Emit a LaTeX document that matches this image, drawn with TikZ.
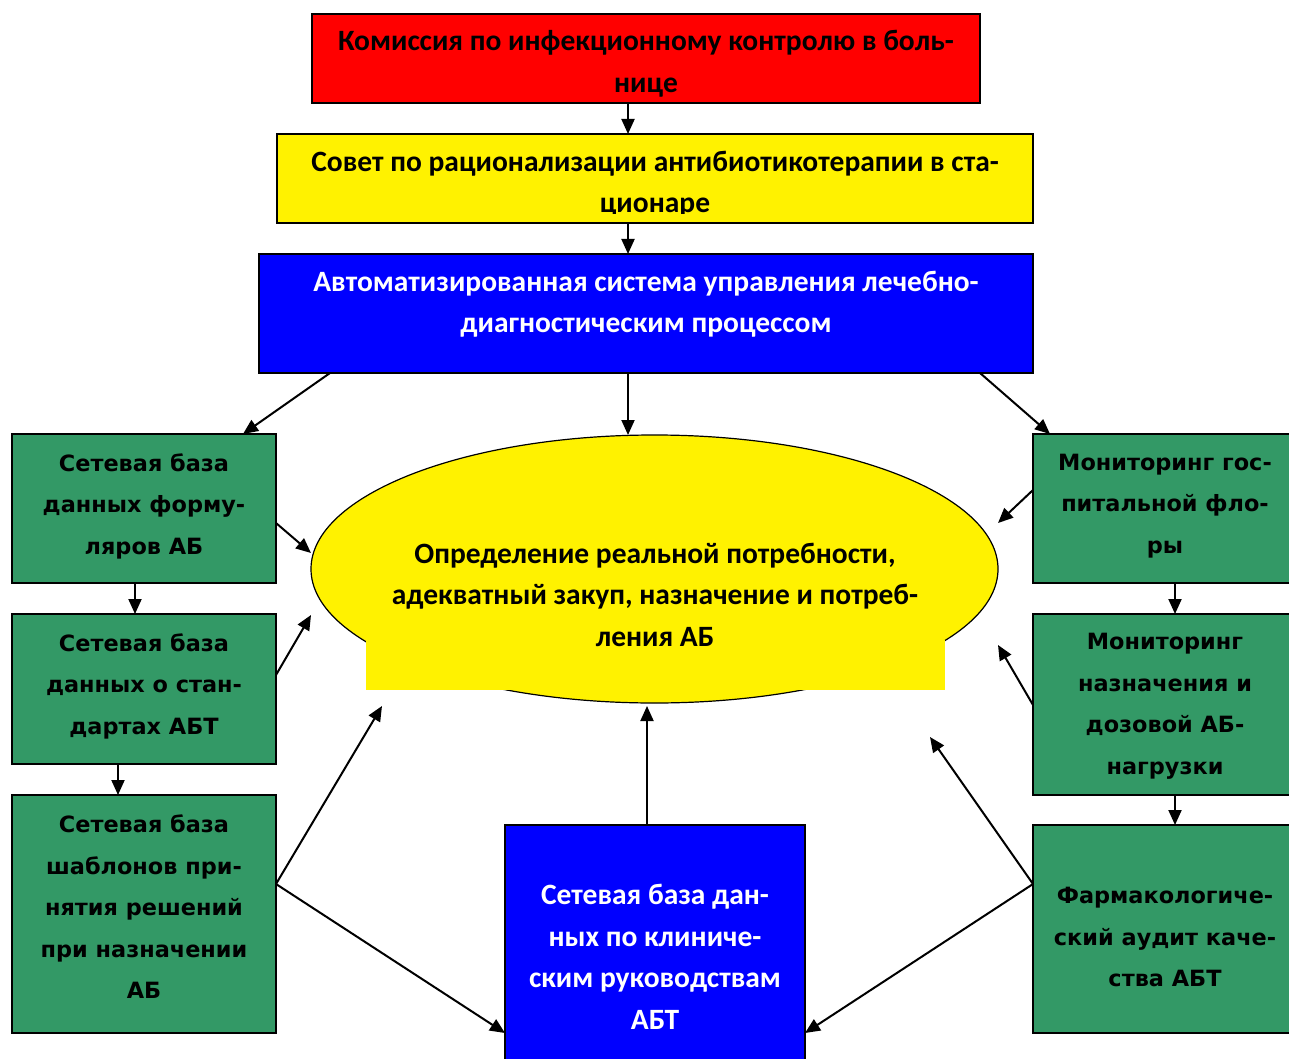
\documentclass[tikz,border=0pt]{standalone}
\usepackage{fontspec}
\usetikzlibrary{arrows.meta,shapes.geometric}
\newfontfamily\calfont{Carlito}
\newfontfamily\verfont{DejaVu Sans}
\definecolor{boxgreen}{RGB}{51,153,102}
\tikzset{
  box/.style={draw=black, line width=1.5pt, rectangle, inner sep=0pt},
  arr/.style={line width=2pt, -{Triangle[length=15pt,width=13pt]}},
  ctext/.style={align=center, inner sep=0pt, font=\calfont\bfseries\fontsize{29.5}{41.5}\selectfont},
  gtext/.style={align=center, inner sep=0pt, font=\verfont\bfseries\fontsize{22.4}{41.5}\selectfont},
}
\begin{document}
\begin{tikzpicture}[x=1pt,y=-1pt]
\useasboundingbox (0,0) rectangle (1289,1059);
\clip (0,0) rectangle (1289,1059);
\fill[white] (0,0) rectangle (1289,1059);

% top boxes
\node[box, fill=red, minimum width=668pt, minimum height=89pt] (kom) at (646,58.5) {};
\node[ctext] (komt) at (646,63.5) {Комиссия по инфекционному контролю в боль-\\нице};

\node[box, fill=yellow, minimum width=756pt, minimum height=89pt] (sov) at (655,178.5) {};
\begin{scope}
  \clip (277,134) rectangle (1033,214);
  \node[ctext] (sovt) at (655,184) {Совет по рационализации антибиотикотерапии в ста-\\ционаре};
\end{scope}

\node[box, fill=blue, minimum width=774pt, minimum height=119pt] (asu) at (646,313.5) {};
\node[ctext, text=white] (asut) at (646,304) {Автоматизированная система управления лечебно-\\диагностическим процессом};

% ellipse
\node[draw=black, line width=1.2pt, fill=yellow, ellipse, minimum width=687pt, minimum height=268pt, inner sep=0pt] (ell) at (654.5,569) {};
\fill[yellow] (366,640) rectangle (945,690);
\node[ctext] (ellt) at (655,594.5) {Определение реальной потребности,\\адекватный закуп, назначение и потреб-\\ления АБ};

% left green boxes
\node[box, fill=boxgreen, minimum width=264pt, minimum height=149pt] (L1) at (144,508.5) {};
\node[gtext] at (144,506) {Сетевая база\\данных форму-\\ляров АБ};
\node[box, fill=boxgreen, minimum width=264pt, minimum height=150pt] (L2) at (144,689) {};
\node[gtext] at (144,686) {Сетевая база\\данных о стан-\\дартах АБТ};
\node[box, fill=boxgreen, minimum width=264pt, minimum height=238pt] (L3) at (144,914) {};
\node[gtext] at (144,907) {Сетевая база\\шаблонов при-\\нятия решений\\при назначении\\АБ};

% right green boxes
\node[box, fill=boxgreen, minimum width=264pt, minimum height=149pt] (R1) at (1165,508.5) {};
\node[gtext] at (1165,506) {Мониторинг гос-\\питальной фло-\\ры};
\node[box, fill=boxgreen, minimum width=264pt, minimum height=181pt] (R2) at (1165,704.5) {};
\node[gtext] at (1165,706) {Мониторинг\\назначения и\\дозовой АБ-\\нагрузки};
\node[box, fill=boxgreen, minimum width=264pt, minimum height=208pt] (R3) at (1165,929) {};
\node[gtext] at (1165,937) {Фармакологиче-\\ский аудит каче-\\ства АБТ};

% bottom blue box
\node[box, fill=blue, minimum width=300pt, minimum height=245pt] (kr) at (655,947.5) {};
\node[ctext, text=white] at (655,957) {Сетевая база дан-\\ных по клиниче-\\ским руководствам\\АБТ};

% connector points
\coordinate (k1) at (628,103); \coordinate (k2) at (628,134);
\coordinate (s1) at (628,223); \coordinate (s2) at (628,254);
\coordinate (a1) at (628,373); \coordinate (a2) at (628,435);
\coordinate (aL1) at (330,373); \coordinate (aL2) at (243,434);
\coordinate (aR1) at (980,373); \coordinate (aR2) at (1050,434);
\coordinate (l11) at (135,583); \coordinate (l12) at (135,614);
\coordinate (l21) at (118,764); \coordinate (l22) at (118,795);
\coordinate (r11) at (1175,583); \coordinate (r12) at (1175,614);
\coordinate (r21) at (1175,795); \coordinate (r22) at (1175,825);
\coordinate (L1o) at (276,523); \coordinate (E1) at (311,553);
\coordinate (L2o) at (276,675); \coordinate (E2) at (311,615);
\coordinate (L3o) at (276,884); \coordinate (E3) at (382,706);
\coordinate (KRl) at (505,1033);
\coordinate (R1o) at (1033,490); \coordinate (E4) at (998,523);
\coordinate (R2o) at (1033,705); \coordinate (E5) at (998,645);
\coordinate (R3o) at (1033,884); \coordinate (E6) at (930,737);
\coordinate (KRr) at (805,1033);
\coordinate (KRt) at (647,825); \coordinate (E7) at (647,706);

\draw[arr] (k1) -- (k2);
\draw[arr] (s1) -- (s2);
\draw[arr] (a1) -- (a2);
\draw[arr] (aL1) -- (aL2);
\draw[arr] (aR1) -- (aR2);
\draw[arr] (l11) -- (l12);
\draw[arr] (l21) -- (l22);
\draw[arr] (r11) -- (r12);
\draw[arr] (r21) -- (r22);
\draw[arr] (L1o) -- (E1);
\draw[arr] (L2o) -- (E2);
\draw[arr] (L3o) -- (E3);
\draw[arr] (L3o) -- (KRl);
\draw[arr] (R1o) -- (E4);
\draw[arr] (R2o) -- (E5);
\draw[arr] (R3o) -- (E6);
\draw[arr] (R3o) -- (KRr);
\draw[arr] (KRt) -- (E7);
\end{tikzpicture}
\end{document}
